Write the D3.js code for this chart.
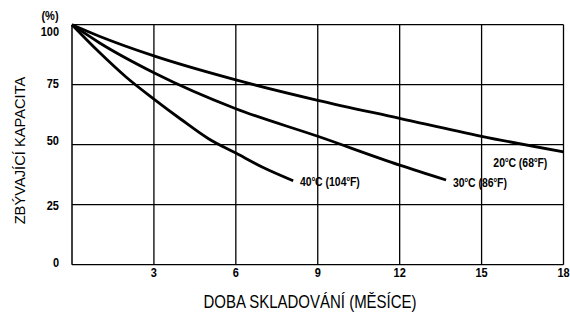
<!DOCTYPE html>
<html><head><meta charset="utf-8">
<script src="https://cdn.jsdelivr.net/npm/d3@7"></script>
<style>body{margin:0;background:#fff}</style>
</head><body>
<svg id="c" width="570" height="313"></svg>
<script>
const xTicks = [3, 6, 9, 12, 15, 18];
const yTicks = [0, 25, 50, 75, 100];
const series20 = [[0,100],[1,95.2],[3,87],[6,77],[9,68.5],[12,61],[15,53.5],[18,47]];
const series30 = [[0,100],[1,92.5],[3,80],[6,65],[9,53.5],[12,41.5],[13.7,35.3]];
const series40 = [[0,100],[1,88.5],[2,78],[3,69],[4,60.5],[5,52.5],[6,46.5],[7,40.5],[8.1,35]];
const labelTemps = ["20", "30", "40"];
const labelFahr = ["68", "86", "104"];
const labelAt = [[15.43, 40.8], [13.95, 32.5], [8.35, 32.9]];

// layout (pixel offsets of y tick labels relative to their grid line)
const yLabelDy = {0: 2.6, 25: 5.3, 50: 0, 75: 3.7, 100: 11};

const svg = d3.select("#c");
const x = d3.scaleLinear().domain([0,18]).range([72,563.5]);
const y = d3.scaleLinear().domain([0,100]).range([264.7,24.7]);
const font = "'Liberation Sans', Arial, sans-serif";

// grid
svg.append("g").selectAll("line").data(xTicks).join("line")
  .attr("x1", d=>x(d)).attr("x2", d=>x(d)).attr("y1", y(0)).attr("y2", y(100))
  .attr("stroke","#000").attr("stroke-width",1.3);
svg.append("g").selectAll("line").data(yTicks).join("line")
  .attr("x1", x(0)).attr("x2", x(18)).attr("y1", d=>y(d)).attr("y2", d=>y(d))
  .attr("stroke","#000").attr("stroke-width",1.3);
svg.append("line").attr("x1",x(0)).attr("x2",x(0)).attr("y1",y(0)).attr("y2",y(100))
  .attr("stroke","#000").attr("stroke-width",1.5);

// tick labels (slightly tall glyphs like the reference)
svg.append("g").selectAll("text").data(xTicks).join("text")
  .attr("transform", d=>`translate(${x(d)},277) scale(1,1.15)`).attr("text-anchor","middle")
  .attr("font-family",font).attr("font-weight","bold").attr("font-size",11)
  .text(d=>d);
svg.append("g").selectAll("text").data(yTicks).join("text")
  .attr("transform", d=>`translate(59,${y(d)+yLabelDy[d]}) scale(1,1.15)`).attr("text-anchor","end")
  .attr("font-family",font).attr("font-weight","bold").attr("font-size",11)
  .text(d=>d);
svg.append("text").attr("transform","translate(50,20) scale(1,1.15)").attr("text-anchor","middle")
  .attr("font-family",font).attr("font-weight","bold").attr("font-size",11).text("(%)");

// curves
const line = d3.line().x(d=>x(d[0])).y(d=>y(d[1])).curve(d3.curveMonotoneX);
[series20, series30, series40].forEach(s=>{
  svg.append("path").datum(s).attr("d", line).attr("fill","none")
    .attr("stroke","#000").attr("stroke-width",2.8);
});

// curve labels
labelTemps.forEach((c,i)=>{
  const t = svg.append("text")
    .attr("transform", `translate(${x(labelAt[i][0])},${y(labelAt[i][1])}) scale(0.95,1.15)`)
    .attr("font-family",font).attr("font-weight","bold").attr("font-size",11);
  t.append("tspan").text(c);
  t.append("tspan").attr("font-size",6).attr("dy",-4).text("o");
  t.append("tspan").attr("dy",4).text("C (" + labelFahr[i]);
  t.append("tspan").attr("font-size",6).attr("dy",-4).text("o");
  t.append("tspan").attr("dy",4).text("F)");
});

// axis titles
svg.append("text").attr("transform","translate(25,150.5) rotate(-90) scale(1.05,1)")
  .attr("text-anchor","middle").attr("font-family",font)
  .attr("font-size",14).text("ZBÝVAJÍCÍ KAPACITA");
svg.append("text").attr("transform","translate(310,308) scale(1,1.24)")
  .attr("text-anchor","middle").attr("font-family",font)
  .attr("font-size",15).text("DOBA SKLADOVÁNÍ (MĚSÍCE)");
</script>
</body></html>
